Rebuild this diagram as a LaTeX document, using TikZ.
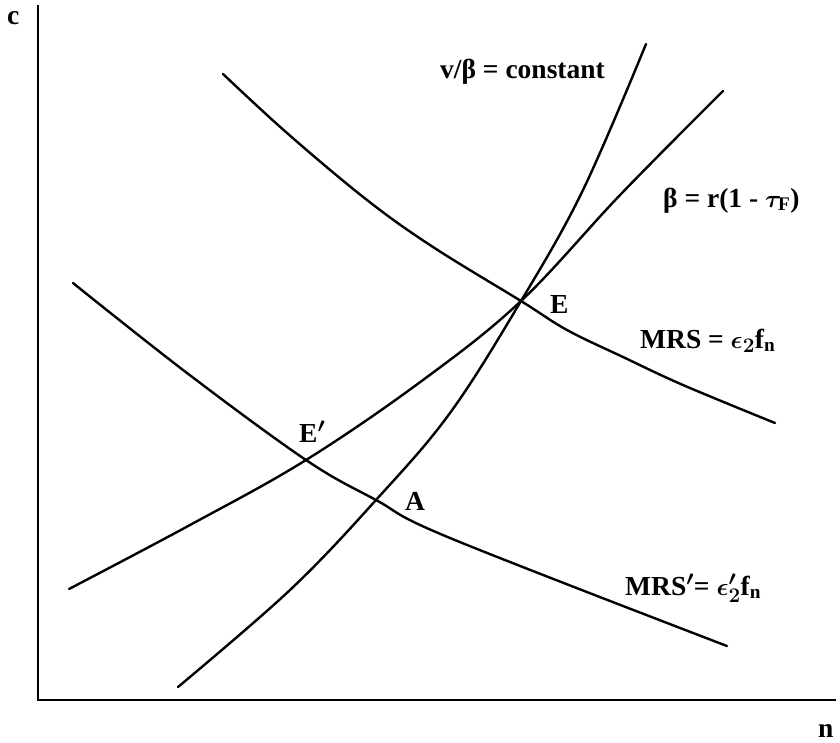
\documentclass[tikz,border=0pt]{standalone}
\usepackage{fontspec}
\setmainfont{Liberation Serif}
\begin{document}
\begin{tikzpicture}[x=1pt,y=-1pt,
  axis/.style={line width=1.9pt},
  curve/.style={line width=2.4pt, line cap=round},
  lbl/.style={font=\fontsize{27.5}{30}\selectfont\bfseries\boldmath, inner sep=0pt, anchor=base west}]
\useasboundingbox (0,0) rectangle (840,742);
% axes
\coordinate (O) at (38,700);
\coordinate (ytop) at (38,5);
\coordinate (xend) at (836,700);
\draw[axis] (ytop) -- (O) -- (xend);
\node[lbl] (lc) at (7,24) {c};
\node[lbl] (ln) at (818,737) {n};
% intersection points
\coordinate (E) at (521,301);
\coordinate (Ep) at (306,460);
\coordinate (A) at (376,500);
% v/beta = constant
\draw[curve] plot[smooth, tension=0.6] coordinates {(178,687) (290,590) (A) (450,413) (E) (583,190) (646,44)};
% beta = r(1-tau)
\draw[curve] plot[smooth, tension=0.6] coordinates {(69,589) (190,525) (Ep) (423,380) (E) (621,194) (723,91)};
% MRS
\draw[curve] plot[smooth, tension=0.6] coordinates {(223,74) (287,133) (367,200) (433,247) (E) (567,330) (623,357) (683,385) (775,423)};
% MRS'
\draw[curve] plot[smooth, tension=0.6] coordinates {(73,283) (187,373) (Ep) (A) (450,538) (727,646)};
% labels
\node[lbl] (lv) at (440,78) {v/β = constant};
\node[lbl] (lb) at (663,207) {β = r(1 - $\tau_{\mathrm F}$)};
\node[lbl] (lm) at (640,348) {MRS = $\epsilon_2$f$_{\mathrm n}$};
\node[lbl] (lmp) at (625,595) {MRS$'$= $\epsilon'_2$f$_{\mathrm n}$};
\node[lbl] (lE) at (550,313) {E};
\node[lbl] (lEp) at (299,442) {E$'$};
\node[lbl] (lA) at (405,510) {A};
\end{tikzpicture}
\end{document}
